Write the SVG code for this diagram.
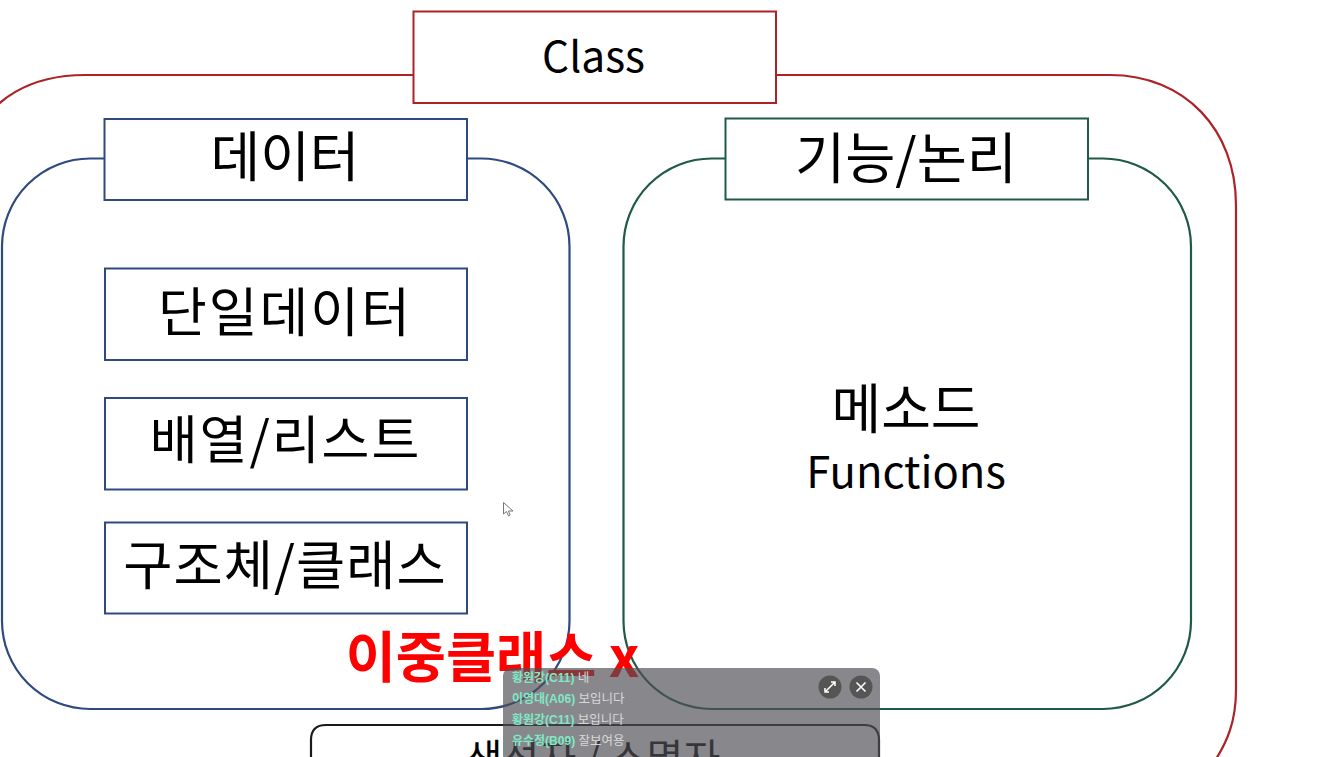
<svg xmlns="http://www.w3.org/2000/svg" width="1327" height="757" viewBox="0 0 1327 757">
<style>
text{font-family:"Noto Sans CJK KR","Noto Sans",sans-serif;text-anchor:middle;fill:#000}
.outer{fill:none;stroke-width:2.2}
.box{fill:#fff;stroke-width:2}
.blue{stroke:#2f4a80}
.green{stroke:#1f5a45}
.red{stroke:#ab2327}
.name{font-size:12px;font-family:"Liberation Sans","Noto Sans CJK KR",sans-serif;text-anchor:start;fill:#7fe8c4;font-weight:700}
.msg{font-size:12.5px;font-family:"Noto Sans CJK KR",sans-serif;text-anchor:start;fill:#d8d8d8;font-weight:400}
</style>
<g id="connectors">
<path class="outer red" d="M413 75H85C30 75 -10 100 -22 135M776 75H1110C1185 75 1236 130 1236 205V690C1236 720 1228 742 1212 765"/>
</g>
<g id="class-node"><rect class="box red" x="413.500" y="11.500" width="362.500" height="91.500"/><text x="593.500" y="72" font-size="42.500">Class</text></g>
<g id="data-group">
<rect class="outer blue" x="2" y="158.500" width="567.500" height="550.500" rx="88" ry="88"/>
<rect class="box blue" x="104.500" y="119" width="362.500" height="81"/><text x="285" y="177" font-size="54">데이터</text>
</g>
<g id="single-data"><rect class="box blue" x="105" y="268.500" width="362" height="91.500"/><text x="285" y="332" font-size="53" letter-spacing="2">단일데이터</text></g>
<g id="array-list"><rect class="box blue" x="105" y="398" width="362" height="91.500"/><text x="285.500" y="459" font-size="52" letter-spacing="2">배열/리스트</text></g>
<g id="struct-class"><rect class="box blue" x="105" y="522.500" width="362" height="91"/><text x="285" y="585" font-size="53.500" letter-spacing="1">구조체/클래스</text></g>
<g id="logic-group">
<rect class="outer green" x="623.500" y="158.500" width="567.500" height="550.500" rx="88" ry="88"/>
<rect class="box green" x="725.500" y="118.500" width="362.500" height="81"/><text x="906" y="178" font-size="54.500">기능/논리</text>
</g>
<g id="method-node"><text x="906" y="429" font-size="54">메소드</text><text x="906" y="488" font-size="43.500">Functions</text></g>
<g id="ctor-node">
<path d="M311 770V740Q311 725 326 725H864Q879 725 879 740V770" fill="#fff" stroke="#1a1a1a" stroke-width="2.200"/>
<text x="593" y="773" font-size="40">생성자 / 소멸자</text>
</g>
<g id="double-class"><text x="492.500" y="677" font-size="54.500" font-weight="700" style="fill:#f00">이중클래스 x</text></g>
<g id="cursor"><path d="M503.500 502.500V514L506.500 511.500L508.500 516L510 515L508.500 511H513Z" fill="#fff" stroke="#777" stroke-width="1"/></g>
<g id="chat-panel">
<rect x="503" y="668" width="377" height="95" rx="8" fill="#4f4f56" fill-opacity=".68"/>
<text class="name" x="512" y="682">황원강(C11) <tspan class="msg">네</tspan></text>
<text class="name" x="512" y="703">이영대(A06) <tspan class="msg">보입니다</tspan></text>
<text class="name" x="512" y="724">황원강(C11) <tspan class="msg">보입니다</tspan></text>
<text class="name" x="512" y="745">유수정(B09) <tspan class="msg">잘보여용</tspan></text>
<circle cx="830" cy="687" r="11.500" fill="#555"/>
<path d="M825 692L835 682M831 682H835V686M825 688V692H829" fill="none" stroke="#fff" stroke-width="1.500"/>
<circle cx="861" cy="687" r="11.500" fill="#555"/>
<path d="M856.500 682.500L865.500 691.500M865.500 682.500L856.500 691.500" stroke="#fff" stroke-width="1.600"/>
</g>
</svg>
